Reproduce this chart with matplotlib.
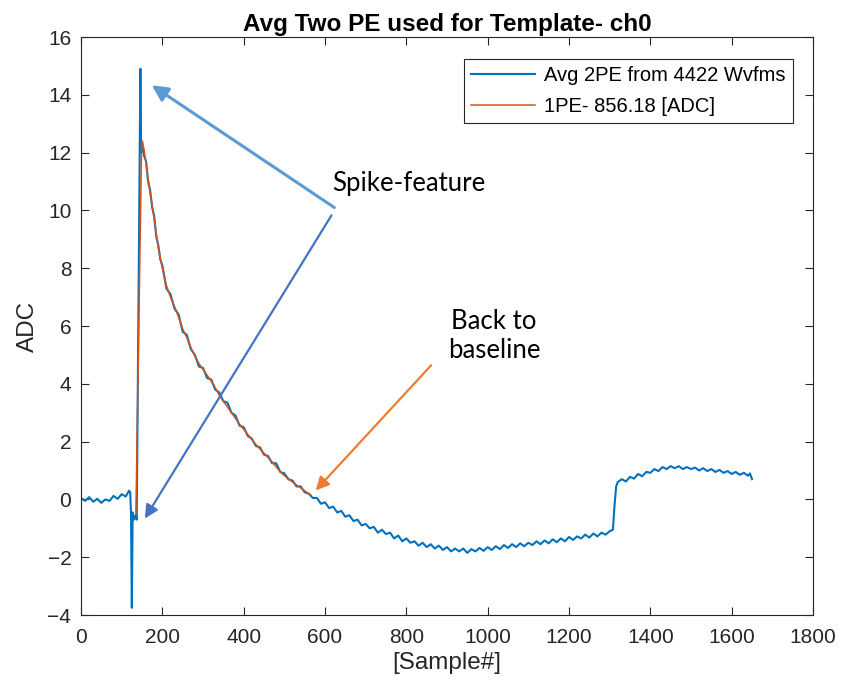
import matplotlib.pyplot as plt

# averaged 2PE waveform (roughly every 10 samples)
blue_x = [0, 10, 20, 30, 40, 50, 60, 70, 80, 90, 100, 110, 118, 121, 123, 125, 127, 130, 134, 137,
          146, 148, 151, 155, 160, 165, 170, 175, 180, 185, 190, 195, 200, 210, 220, 230, 240, 250,
          260, 270, 280, 290, 300, 310, 320, 330, 340, 350, 360, 370, 380, 390, 400, 410, 420, 430,
          440, 450, 460, 470, 480, 490, 500, 510, 520, 530, 540, 550, 560, 570, 580, 590, 600, 610,
          620, 630, 640, 650, 660, 670, 680, 690, 700, 710, 720, 730, 740, 750, 760, 770, 780, 790,
          800, 810, 820, 830, 840, 850, 860, 870, 880, 890, 900, 910, 920, 930, 940, 950, 960, 970,
          980, 990, 1000, 1010, 1020, 1030, 1040, 1050, 1060, 1070, 1080, 1090, 1100, 1110, 1120,
          1130, 1140, 1150, 1160, 1170, 1180, 1190, 1200, 1210, 1220, 1230, 1240, 1250, 1260, 1270,
          1280, 1290, 1300, 1308, 1312, 1316, 1320, 1330, 1340, 1350, 1360, 1370, 1380, 1390, 1400,
          1410, 1420, 1430, 1440, 1450, 1460, 1470, 1480, 1490, 1500, 1510, 1520, 1530, 1540, 1550,
          1560, 1570, 1580, 1590, 1600, 1610, 1620, 1630, 1640, 1645, 1650]
blue_y = [0.05, -0.05, 0.08, -0.08, 0.02, -0.12, 0.0, -0.05, 0.12, 0.02, 0.18, 0.1, 0.3, 0.25, -0.5, -3.75, -0.45, -0.7, -0.55, -0.7,
          14.9, 12.0, 12.3, 11.9, 11.7, 11.0, 10.7, 10.1, 9.8, 9.1, 8.8, 8.3, 8.1, 7.3, 7.1, 6.6, 6.4, 5.8,
          5.7, 5.2, 5.0, 4.6, 4.55, 4.2, 4.15, 3.8, 3.7, 3.4, 3.35, 3.0, 2.9, 2.55, 2.5, 2.2, 2.1, 1.85,
          1.8, 1.55, 1.5, 1.25, 1.25, 0.95, 0.9, 0.7, 0.65, 0.45, 0.45, 0.25, 0.2, 0.05, 0.05, -0.15, -0.1, -0.3,
          -0.25, -0.45, -0.4, -0.6, -0.55, -0.75, -0.7, -0.9, -0.85, -1.0, -0.95, -1.15, -1.05, -1.2, -1.15, -1.35, -1.25, -1.45,
          -1.35, -1.5, -1.45, -1.6, -1.5, -1.65, -1.55, -1.7, -1.6, -1.75, -1.65, -1.8, -1.7, -1.8, -1.7, -1.85, -1.72, -1.8,
          -1.68, -1.78, -1.65, -1.75, -1.62, -1.72, -1.58, -1.68, -1.55, -1.65, -1.52, -1.62, -1.5, -1.58, -1.45,
          -1.55, -1.42, -1.52, -1.38, -1.48, -1.35, -1.45, -1.3, -1.4, -1.28, -1.35, -1.22, -1.32, -1.18, -1.28,
          -1.15, -1.22, -1.1, -1.05, -0.2, 0.45, 0.6, 0.7, 0.62, 0.78, 0.72, 0.88, 0.8, 0.95, 0.92,
          1.05, 0.98, 1.12, 1.05, 1.15, 1.08, 1.15, 1.05, 1.12, 1.05, 1.1, 1.0, 1.08, 0.98, 1.05,
          0.95, 1.02, 0.92, 0.98, 0.88, 0.95, 0.85, 0.92, 0.82, 0.9, 0.7]

# 1PE template fit
orange_x = [135, 149, 151, 155, 160, 170, 180, 190, 200, 210, 220, 235, 250, 260, 275, 290, 310,
            325, 340, 355, 370, 390, 410, 430, 450, 470, 490, 510, 530, 550, 565]
orange_y = [-0.5, 12.2, 12.4, 12.1, 11.6, 10.6, 9.7, 8.7, 8.0, 7.4, 7.0, 6.5, 5.9, 5.6, 5.1, 4.7, 4.3,
            4.0, 3.6, 3.3, 3.0, 2.6, 2.25, 1.9, 1.6, 1.3, 0.95, 0.7, 0.5, 0.3, 0.15]

x_ticks = [0, 200, 400, 600, 800, 1000, 1200, 1400, 1600, 1800]
y_ticks = [-4, -2, 0, 2, 4, 6, 8, 10, 12, 14, 16]

plt.rcParams['font.family'] = ['Liberation Sans', 'DejaVu Sans']
dark = '#262626'

fig = plt.figure(figsize=(8.43, 6.88), dpi=100)
ax = fig.add_axes([0.0961, 0.1061, 0.8683, 0.8401])

ax.plot(blue_x, blue_y, color='#0072BD', lw=1.5, label='Avg 2PE from 4422 Wvfms')
ax.plot(orange_x, orange_y, color='#D95319', lw=1.1, label='1PE- 856.18 [ADC]')

ax.set_xlim(0, 1800)
ax.set_ylim(-4, 16)
ax.set_xticks(x_ticks)
ax.set_yticks(y_ticks)
ax.tick_params(direction='in', top=True, right=True, labelsize=15, length=6,
               color=dark, labelcolor=dark)
ax.tick_params(axis='x', pad=9)
ax.tick_params(axis='y', pad=7)
for s in ax.spines.values():
    s.set_color(dark)
    s.set_linewidth(0.8)

ax.set_title('Avg Two PE used for Template- ch0', fontsize=17.5, fontweight='bold', pad=4)
ax.set_xlabel('[Sample#]', fontsize=17.5, color=dark, labelpad=4)
ax.set_ylabel('ADC', fontsize=17.5, color=dark, labelpad=6)

leg = ax.legend(loc='upper right', bbox_to_anchor=(0.9727, 0.962), fontsize=14.5,
                fancybox=False, framealpha=1, edgecolor=dark, borderaxespad=0,
                handlelength=3.2, handletextpad=0.45, borderpad=0.35, labelspacing=0.6)
leg.get_frame().set_linewidth(0.8)

# annotations
afont = ['Lato', 'DejaVu Sans']
ax.text(807, 10.93, 'Spike-feature', fontsize=18.5, family=afont, ha='center', va='center')
ax.text(1016, 5.67, 'Back to\nbaseline', fontsize=18.5, family=afont, ha='center', va='center',
        linespacing=1.2)
ax.annotate('', xy=(174, 14.33), xytext=(623, 10.1),
            arrowprops=dict(arrowstyle='-|>', color='#5B9BD5', lw=2.2, mutation_scale=24,
                            shrinkA=0, shrinkB=0))
ax.annotate('', xy=(157, -0.66), xytext=(616, 9.83),
            arrowprops=dict(arrowstyle='-|>', color='#4472C4', lw=1.6, mutation_scale=20,
                            shrinkA=0, shrinkB=0))
ax.annotate('', xy=(577, 0.31), xytext=(861, 4.64),
            arrowprops=dict(arrowstyle='-|>', color='#ED7D31', lw=1.6, mutation_scale=20,
                            shrinkA=0, shrinkB=0))

fig.savefig('out.png', dpi=100)
